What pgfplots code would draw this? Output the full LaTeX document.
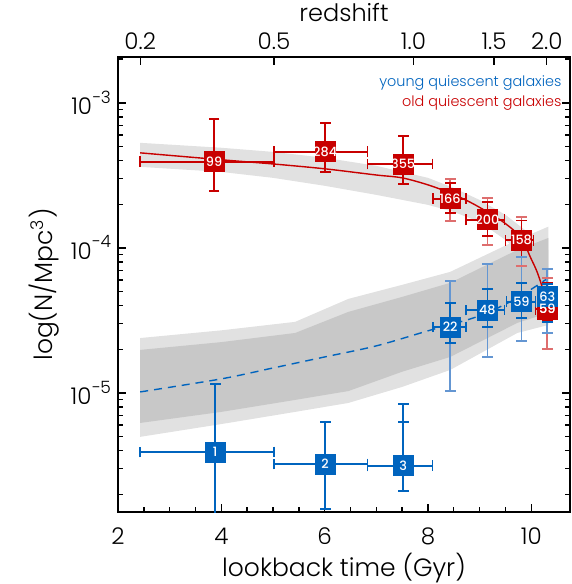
\documentclass[border=0pt]{standalone}
\usepackage{fontspec}
\setmainfont{Poppins}[UprightFont={* Light}, BoldFont={* Medium}]
\usepackage{pgfplots}
\pgfplotsset{compat=1.18}
\usepackage{pgfplotstable}

\definecolor{myred}{RGB}{200,0,0}
\definecolor{myblue}{RGB}{0,100,190}
\definecolor{lred}{RGB}{222,110,110}
\definecolor{lblue}{RGB}{100,150,210}
\definecolor{lgray}{RGB}{225,225,225}
\definecolor{dgray}{RGB}{200,200,200}
\newcommand{\lblfont}{\fontsize{11.5}{13}\selectfont}
\newcommand{\boxfont}{\fontsize{6.4}{7}\selectfont\bfseries}
\newcommand{\pw}[1]{10\raisebox{0.95ex}{\fontsize{8.5}{9}\selectfont #1}}

% old quiescent galaxies: position, x range, label
\pgfplotstableread{
x y xp xm lab
3.86 3.92e-4 1.16 1.43 99
6.01 4.59e-4 0.82 0.99 284
7.52 3.79e-4 0.57 0.69 355
8.43 2.18e-4 0.31 0.33 166
9.15 1.56e-4 0.33 0.41 200
9.81 1.13e-4 0.23 0.31 158
10.31 3.78e-5 0.20 0.23 59
}\redtab
\pgfplotstableread{
x y lab
10.31 3.78e-5 59
}\redlast
% young quiescent galaxies
\pgfplotstableread{
x y xp xm lab
3.88 3.92e-6 1.14 1.45 1
6.01 3.24e-6 0.82 0.99 2
7.52 3.14e-6 0.57 0.69 3
8.43 2.85e-5 0.31 0.33 22
9.15 3.73e-5 0.33 0.41 48
9.81 4.25e-5 0.27 0.29 59
10.31 4.64e-5 0.20 0.19 63
}\bluetab

\pgfplotsset{
  errseg/.style={color=#1, line width=0.8pt, mark=-, mark size=2.7pt, mark options={solid, line width=0.8pt}, unbounded coords=jump},
  boxes/.style={only marks, mark=square*, mark size=5pt, mark options={fill=#1, draw=#1},
    point meta=explicit symbolic, nodes near coords,
    every node near coord/.append style={anchor=center, text=white, font=\boxfont},
    error bars/.cd, x dir=both, x explicit,
    error bar style={line width=0.8pt, #1}, error mark=|,
    error mark options={line width=0.8pt, mark size=2.7pt, #1}},
}

\begin{document}
\begin{tikzpicture}
\begin{axis}[name=ax,
  scale only axis, width=226pt, height=227.5pt,
  xmin=2, xmax=10.75, ymode=log, ymin=1.51e-6, ymax=2.07e-3,
  xtick={2,4,6,8,10}, minor x tick num=3, xtick pos=bottom, ytick pos=both,
  ytick={1e-5,1e-4,1e-3},
  yticklabels={\pw{−5},\pw{−4},\pw{−3}},
  minor ytick={2e-6,3e-6,4e-6,5e-6,6e-6,7e-6,8e-6,9e-6,2e-5,3e-5,4e-5,5e-5,6e-5,7e-5,8e-5,9e-5,2e-4,3e-4,4e-4,5e-4,6e-4,7e-4,8e-4,9e-4,2e-3},
  tick align=inside, major tick length=4pt, minor tick length=2.5pt,
  axis line style={line width=0.9pt},
  every tick/.style={black, line width=0.7pt},
  tick label style={font=\lblfont},
  xticklabel style={yshift=-4.5pt},
  label style={font=\fontsize{12.5}{14}\selectfont},
  xlabel style={yshift=3pt},
  ylabel style={yshift=-1pt},
  xlabel={lookback time (Gyr)},
  ylabel={log(N/Mpc\textsuperscript{3})},
  /pgf/number format/assume math mode=true,
]
% bands
\addplot[fill=lgray, draw=none] coordinates {(2.43,5.30e-4) (4,4.90e-4) (5,4.59e-4) (6,4.18e-4) (7,3.68e-4) (8,3.04e-4) (8.5,2.59e-4) (9,2.14e-4) (9.5,1.69e-4) (10,1.23e-4) (10.33,9.68e-5) (10.33,4.74e-5) (10,7.64e-5) (9.5,1.135e-4) (9,1.51e-4) (8.5,1.77e-4) (8,1.98e-4) (7,2.32e-4) (6,2.68e-4) (5,3.04e-4) (4,3.34e-4) (2.43,3.62e-4)} --cycle;
\addplot[fill=lgray, draw=none] coordinates {(2.43,2.39e-5) (4,2.70e-5) (5.43,3.09e-5) (6.46,4.45e-5) (7.5,5.56e-5) (8.43,6.83e-5) (9.73,1.135e-4) (10.33,1.40e-4) (10.33,2.94e-5) (9.73,2.59e-5) (8.43,1.44e-5) (7.5,1.10e-5) (6.46,8.53e-6) (5.43,7.40e-6) (4,6.10e-6) (2.43,4.98e-6)} --cycle;
\addplot[fill=dgray, draw=none] coordinates {(2.43,1.98e-5) (4,2.24e-5) (5.43,2.59e-5) (6.46,3.62e-5) (7.5,4.59e-5) (8.43,5.74e-5) (9.73,9.68e-5) (10.33,1.17e-4) (10.33,3.56e-5) (9.73,3.04e-5) (8.43,1.77e-5) (7.5,1.40e-5) (6.46,1.03e-5) (5.43,8.95e-6) (4,7.40e-6) (2.43,6.21e-6)} --cycle;
% model curves
\addplot[myred, line width=0.7pt, smooth] coordinates {(2.43,4.52e-4) (4,4.05e-4) (5,3.79e-4) (6,3.51e-4) (7,3.18e-4) (7.5,3.04e-4) (8,2.72e-4) (8.43,2.39e-4) (8.8,2.08e-4) (9.15,1.77e-4) (9.5,1.47e-4) (9.81,1.17e-4) (9.98,8.67e-5) (10.12,6.73e-5) (10.27,4.59e-5) (10.32,3.73e-5)};
\addplot[myblue, line width=0.7pt, dash pattern=on 4pt off 3pt, smooth] coordinates {(2.43,1.016e-5) (4,1.25e-5) (5,1.486e-5) (6,1.77e-5) (7,2.11e-5) (8,2.68e-5) (9,3.40e-5) (9.73,4.52e-5) (10.33,6.21e-5)};
% old: y error bars (outer, lighter; inner, full), then boxes with x error bars and labels
\addplot[errseg=lred] coordinates {(8.43,1.53e-4) (8.43,2.99e-4) (8.43,nan) (9.15,1.05e-4) (9.15,2.21e-4) (9.15,nan) (9.81,7.52e-5) (9.81,1.64e-4) (9.81,nan) (10.31,2.01e-5) (10.31,6.21e-5)};
\addplot[errseg=myred] coordinates {(3.86,2.47e-4) (3.86,7.76e-4) (3.86,nan) (6.01,3.34e-4) (6.01,7.28e-4) (6.01,nan) (7.52,2.76e-4) (7.52,5.92e-4) (7.52,nan) (8.43,1.74e-4) (8.43,2.81e-4) (8.43,nan) (9.15,1.21e-4) (9.15,2.08e-4) (9.15,nan) (9.81,8.67e-5) (9.81,1.54e-4) (9.81,nan) (10.31,3.14e-5) (10.31,5.74e-5)};
\addplot[boxes=myred] table[x=x, y=y, x error plus=xp, x error minus=xm, meta=lab] {\redtab};
% young
\addplot[errseg=lblue] coordinates {(8.43,1.03e-5) (8.43,5.91e-5) (8.43,nan) (9.15,1.77e-5) (9.15,7.76e-5) (9.15,nan) (9.81,2.29e-5) (9.81,8.67e-5) (9.81,nan) (10.31,2.59e-5) (10.31,7.16e-5)};
\addplot[errseg=myblue] coordinates {(3.88,1.0e-6) (3.88,1.15e-5) (3.88,nan) (6.01,1.59e-6) (6.01,6.31e-6) (6.01,nan) (7.52,2.11e-6) (7.52,8.39e-6) (7.52,nan) (7.52,6.31e-6) (7.52,6.31e-6) (7.52,nan) (8.43,2.21e-5) (8.43,4.18e-5) (8.43,nan) (9.15,2.85e-5) (9.15,5.21e-5) (9.15,nan) (9.81,3.29e-5) (9.81,5.74e-5) (9.81,nan) (10.31,3.09e-5) (10.31,5.65e-5)};
\addplot[boxes=myblue] table[x=x, y=y, x error plus=xp, x error minus=xm, meta=lab] {\bluetab};
\addplot[only marks, mark=none, point meta=explicit symbolic, nodes near coords,
  every node near coord/.append style={anchor=center, text=white, font=\boxfont}]
  table[x=x, y=y, meta=lab] {\redlast};
% legend text
\node[anchor=east, text=myblue, font=\fontsize{7.2}{9}\selectfont, inner sep=0pt] at (rel axis cs:0.982,0.942) {young quiescent galaxies};
\node[anchor=east, text=myred, font=\fontsize{7.2}{9}\selectfont, inner sep=0pt] at (rel axis cs:0.982,0.898) {old quiescent galaxies};
\end{axis}
\begin{axis}[at={(ax.south west)}, anchor=south west,
  scale only axis, width=226pt, height=227.5pt,
  xmin=2, xmax=10.75, ymin=0, ymax=1,
  axis x line*=top, axis y line=none,
  xtick={2.43,5.02,7.72,9.28,10.3}, xticklabels={0.2,0.5,1.0,1.5,2.0},
  tick align=inside, major tick length=4pt,
  axis line style={line width=0.9pt},
  every tick/.style={black, line width=0.7pt},
  tick label style={font=\lblfont},
  label style={font=\fontsize{12}{14}\selectfont},
  xlabel style={yshift=-1pt},
  xlabel={redshift},
]
\end{axis}
\pgfresetboundingbox
\path ([shift={(-59pt,-36pt)}]ax.south west) rectangle ([shift={(1pt,28.5pt)}]ax.north east);
\end{tikzpicture}
\end{document}
